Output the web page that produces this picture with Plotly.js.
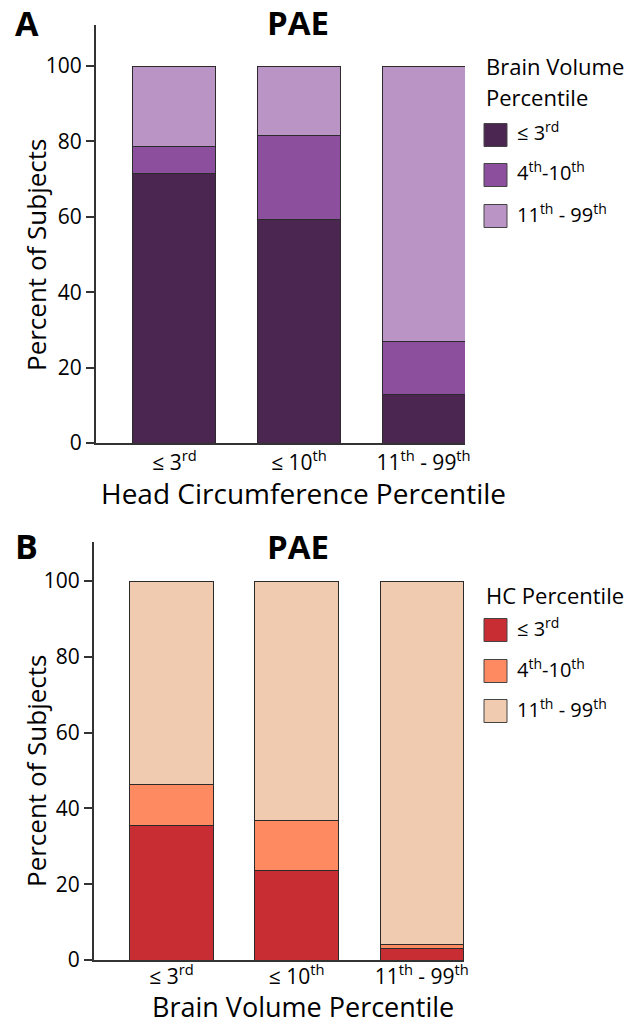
<!DOCTYPE html>
<html><head><meta charset="utf-8">
<script src="https://cdn.plot.ly/plotly-3.0.1.min.js"></script>
<style>html,body{margin:0;padding:0;background:#fff}#chart{width:634px;height:1027px}</style>
</head><body><div id="chart"></div>
<script>
// ---- data ----
const categories = ['≤ 3<sup>rd</sup>', '≤ 10<sup>th</sup>', '11<sup>th</sup> - 99<sup>th</sup>'];
const seriesNames = ['≤ 3<sup>rd</sup>', '4<sup>th</sup>-10<sup>th</sup>', '11<sup>th</sup> - 99<sup>th</sup>'];
// Panel A: PAE, by head circumference percentile, stacked by brain volume percentile
const A_le3 = [71.4, 59.2, 13.0];
const A_4to10 = [7.2, 22.4, 13.8];
const A_11to99 = [21.4, 18.4, 73.2];
// Panel B: PAE, by brain volume percentile, stacked by HC percentile
const B_le3 = [35.6, 23.7, 3.0];
const B_4to10 = [10.8, 13.0, 1.1];
const B_11to99 = [53.6, 63.3, 95.9];
const yTicks = [0, 20, 40, 60, 80, 100];

const colorsA = ['#4a2650', '#8b4f9e', '#bb94c6'];
const colorsB = ['#c82d33', '#fe8a61', '#f0cbb0'];

const W = 634, H = 1027;
const px = x => x / W;
const py = y => 1 - y / H;
const FONT = 'Open Sans, sans-serif';

const lineStyle = {color: '#2b2b2b', width: 1};
function bars(vals, names, colors, xa, ya) {
  return vals.map((v, i) => ({
    type: 'bar', x: categories, y: v, name: names[i], xaxis: xa, yaxis: ya,
    marker: {color: colors[i], line: lineStyle}, showlegend: false, hoverinfo: 'skip'
  }));
}
const data = [
  ...bars([A_le3, A_4to10, A_11to99], seriesNames, colorsA, 'x', 'y'),
  ...bars([B_le3, B_4to10, B_11to99], seriesNames, colorsB, 'x2', 'y2')
];

function xax(domain, range) {
  return {domain: domain, range: range, type: 'category', showline: true, linecolor: '#333', linewidth: 2,
    ticks: '', showgrid: false, zeroline: false, fixedrange: true,
    tickfont: {family: FONT, size: 21, color: '#000'}};
}
function yax(domain, range, anchor) {
  return {domain: domain, range: range, anchor: anchor, showline: true, linecolor: '#333', linewidth: 2,
    ticks: 'outside', ticklen: 8, tickwidth: 2, tickcolor: '#333', tickvals: yTicks,
    showgrid: false, zeroline: false, fixedrange: true,
    tickfont: {family: FONT, size: 21, color: '#000'}};
}

const annotations = [];
const shapes = [];
function ann(text, x, y, opts) {
  annotations.push(Object.assign({text: text, x: px(x), y: py(y), xref: 'paper', yref: 'paper',
    xanchor: 'center', yanchor: 'middle',
    showarrow: false, font: {family: FONT, size: 28, color: '#000'}}, opts || {}));
}
// Panel labels & titles
ann('<b>A</b>', 27, 23, {font: {family: FONT, size: 34, color: '#000'}});
ann('<b>B</b>', 26, 546, {font: {family: FONT, size: 34, color: '#000'}});
ann('<b>PAE</b>', 298, 23, {font: {family: FONT, size: 33, color: '#000'}});
ann('<b>PAE</b>', 298, 546, {font: {family: FONT, size: 33, color: '#000'}});
// Axis titles
ann('Percent of Subjects', 36, 255, {textangle: -90, font: {family: FONT, size: 26, color: '#000'}});
ann('Percent of Subjects', 36, 771, {textangle: -90, font: {family: FONT, size: 26, color: '#000'}});
ann('Head Circumference Percentile', 303, 493);
ann('Brain Volume Percentile', 303, 1006, {font: {family: FONT, size: 27, color: '#000'}});

// Legends built from series names and colors
function legend(titleLines, titleY, itemYs, colors) {
  titleLines.forEach((t, i) => ann(t, 484, titleY[i], {xanchor: 'left', font: {family: FONT, size: 22, color: '#000'}}));
  seriesNames.forEach((n, i) => {
    const cy = itemYs[i];
    shapes.push({type: 'rect', xref: 'paper', yref: 'paper', x0: px(484), x1: px(507), y0: py(cy - 11.5), y1: py(cy + 11.5),
      fillcolor: colors[i], line: {color: '#444', width: 1}});
    ann(n, 515, cy - 3, {xanchor: 'left', font: {family: FONT, size: 20, color: '#000'}});
  });
}
legend(['Brain Volume', 'Percentile'], [66, 97], [135, 175, 216], colorsA);
legend(['HC Percentile'], [595], [630, 671, 711], colorsB);

const layout = {
  width: W, height: H, margin: {l: 0, r: 0, t: 0, b: 0},
  paper_bgcolor: '#fff', plot_bgcolor: 'rgba(0,0,0,0)',
  barmode: 'stack', bargap: 0.333, showlegend: false,
  xaxis: xax([px(96), px(465)], [-0.63, 2.333]),
  yaxis: yax([py(443), py(25)], [0, 110.9], 'x'),
  xaxis2: Object.assign(xax([px(94), px(464)], [-0.62, 2.338]), {anchor: 'y2', ticklabelstandoff: -3}),
  yaxis2: yax([py(960), py(541.7)], [0, 110.4], 'x2'),
  annotations: annotations, shapes: shapes,
  font: {family: FONT, color: '#000'}
};
Plotly.newPlot('chart', data, layout, {staticPlot: true, displayModeBar: false});
</script></body></html>
